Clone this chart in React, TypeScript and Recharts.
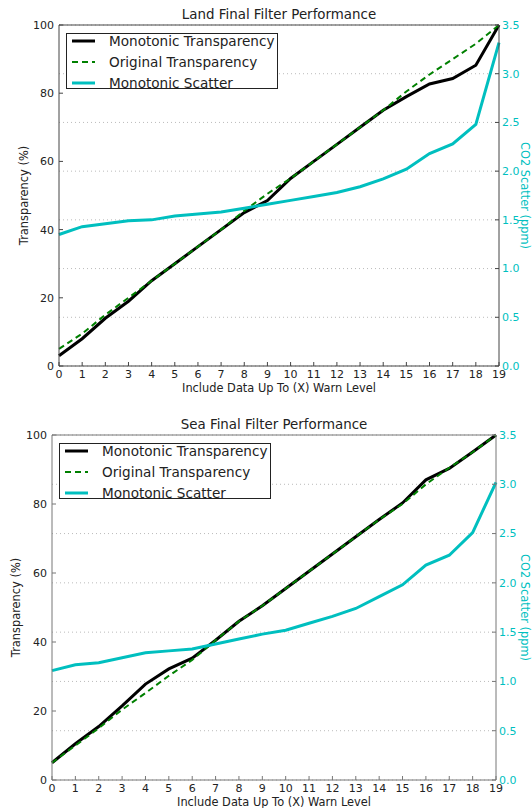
import {
  CartesianGrid,
  Label,
  Legend,
  Line,
  LineChart,
  XAxis,
  YAxis,
} from "recharts";

const LEVELS = [0, 1, 2, 3, 4, 5, 6, 7, 8, 9, 10, 11, 12, 13, 14, 15, 16, 17, 18, 19];
const PCT_TICKS = [0, 20, 40, 60, 80, 100];
const PPM_TICKS = [0, 0.5, 1, 1.5, 2, 2.5, 3, 3.5];

// Land
const LAND_MONOTONIC = [3, 8, 14, 19, 25, 30, 35, 40, 45, 48.5, 55, 60, 65, 70, 75, 79, 82.7, 84.3, 88.2, 100];
const LAND_ORIGINAL = [5, 9.5, 15, 20, 25, 30, 35, 40, 45.5, 50.5, 55, 60, 65, 70, 75, 80.5, 85.5, 90, 94.5, 100];
const LAND_SCATTER = [1.35, 1.43, 1.46, 1.49, 1.5, 1.54, 1.56, 1.58, 1.62, 1.66, 1.7, 1.74, 1.78, 1.84, 1.92, 2.02, 2.18, 2.28, 2.48, 3.32];

// Sea
const SEA_MONOTONIC = [5, 10.5, 15.5, 21.5, 27.8, 32.2, 35.3, 40.5, 46, 50.5, 55.5, 60.5, 65.5, 70.5, 75.5, 80.3, 87, 90.3, 95.1, 100];
const SEA_ORIGINAL = [5, 10, 15, 20.4, 25.2, 30.2, 34.8, 40.5, 46, 50.5, 55.5, 60.5, 65.5, 70.5, 75.5, 80, 85.7, 90.5, 95, 100];
const SEA_SCATTER = [1.11, 1.17, 1.19, 1.24, 1.29, 1.31, 1.33, 1.38, 1.43, 1.48, 1.52, 1.59, 1.66, 1.74, 1.86, 1.98, 2.18, 2.28, 2.51, 3.02];

const FONT = '"DejaVu Sans", Verdana, sans-serif';
const CYAN = "#00bfbf";
const GREEN = "#008000";
const TEXT = "#222";

const SERIES = [
  { key: "mono", name: "Monotonic Transparency", color: "#000", width: 3, dash: undefined as string | undefined },
  { key: "orig", name: "Original Transparency", color: GREEN, width: 2, dash: "6 4" },
  { key: "scatter", name: "Monotonic Scatter", color: CYAN, width: 3, dash: undefined as string | undefined },
];

function buildRows(mono: number[], orig: number[], scatter: number[]) {
  return LEVELS.map((level, i) => ({ level, mono: mono[i], orig: orig[i], scatter: scatter[i] }));
}

function LegendBox() {
  return (
    <div
      style={{
        border: "1px solid #222",
        background: "#fff",
        width: 210,
        height: 54,
        fontFamily: FONT,
        fontSize: 13.6,
        color: TEXT,
      }}
    >
      {SERIES.map((s, i) => (
        <div
          key={s.key}
          style={{
            display: "flex",
            alignItems: "center",
            height: 14,
            marginTop: i === 0 ? 0 : 7,
            whiteSpace: "nowrap",
          }}
        >
          <svg width={42} height={14} style={{ flex: "none" }}>
            <line
              x1={5}
              x2={28}
              y1={7}
              y2={7}
              stroke={s.color}
              strokeWidth={s.width}
              strokeDasharray={s.dash}
            />
          </svg>
          <span>{s.name}</span>
        </div>
      ))}
    </div>
  );
}

interface FilterChartProps {
  title: string;
  rows: ReturnType<typeof buildRows>;
  plotLeft: number;
  plotRight: number;
  height: number;
  xAxisHeight: number;
  spine: string;
  leftLabelDx: number;
  rightLabelDx: number;
}

function FilterChart({
  title,
  rows,
  plotLeft,
  plotRight,
  height,
  xAxisHeight,
  spine,
  leftLabelDx,
  rightLabelDx,
}: FilterChartProps) {
  const tick = { fill: TEXT, fontSize: 11, fontFamily: FONT };
  return (
    <div style={{ position: "relative", width: 532, height }}>
      <LineChart
        width={532}
        height={height}
        data={rows}
        margin={{ top: 24, right: 0, bottom: 0, left: 0 }}
      >
        <CartesianGrid
          yAxisId="right"
          vertical={false}
          stroke="#bbb"
          strokeDasharray="1 3"
        />
        <XAxis
          dataKey="level"
          type="number"
          domain={[0, 19]}
          ticks={LEVELS}
          interval={0}
          height={xAxisHeight}
          tickSize={-4}
          tickMargin={8}
          tick={tick}
          stroke={spine}
        >
          <Label
            value="Include Data Up To (X) Warn Level"
            position="insideBottom"
            offset={xAxisHeight - 26}
            style={{ fill: TEXT, fontSize: 11.4, fontFamily: FONT }}
          />
        </XAxis>
        <XAxis
          xAxisId="top"
          orientation="top"
          dataKey="level"
          type="number"
          domain={[0, 19]}
          ticks={LEVELS}
          interval={0}
          height={1}
          tickSize={-4}
          tick={false}
          stroke={spine}
        />
        <YAxis
          yAxisId="left"
          domain={[0, 100]}
          ticks={PCT_TICKS}
          interval={0}
          width={plotLeft}
          tickSize={-4}
          tickMargin={9}
          tick={tick}
          stroke={spine}
        >
          <Label
            value="Transparency (%)"
            angle={-90}
            position="center"
            dx={leftLabelDx}
            style={{ fill: TEXT, fontSize: 11.4, fontFamily: FONT, textAnchor: "middle" }}
          />
        </YAxis>
        <YAxis
          yAxisId="right"
          orientation="right"
          domain={[0, 3.5]}
          ticks={PPM_TICKS}
          interval={0}
          width={532 - plotRight}
          tickSize={-4}
          tickMargin={7}
          tick={{ ...tick, fill: CYAN }}
          tickFormatter={(v: number) => v.toFixed(1)}
          stroke={spine}
        >
          <Label
            value="CO2 Scatter (ppm)"
            angle={90}
            position="center"
            dx={rightLabelDx}
            style={{ fill: CYAN, fontSize: 11.4, fontFamily: FONT, textAnchor: "middle" }}
          />
        </YAxis>
        <Legend
          layout="horizontal"
          verticalAlign="middle"
          align="center"
          wrapperStyle={{ position: "absolute", left: plotLeft + 7, top: 33, width: "auto", height: "auto" }}
          content={() => <LegendBox />}
        />
        <Line
          yAxisId="left"
          dataKey="mono"
          name="Monotonic Transparency"
          stroke="#000"
          strokeWidth={3}
          dot={false}
          isAnimationActive={false}
        />
        <Line
          yAxisId="left"
          dataKey="orig"
          name="Original Transparency"
          stroke={GREEN}
          strokeWidth={2}
          strokeDasharray="6 4"
          dot={false}
          isAnimationActive={false}
        />
        <Line
          yAxisId="right"
          dataKey="scatter"
          name="Monotonic Scatter"
          stroke={CYAN}
          strokeWidth={3}
          dot={false}
          isAnimationActive={false}
        />
      </LineChart>
      <div
        style={{
          position: "absolute",
          top: 7,
          left: plotLeft,
          width: plotRight - plotLeft,
          textAlign: "center",
          fontFamily: FONT,
          fontSize: 13.4,
          lineHeight: "16px",
          color: TEXT,
        }}
      >
        {title}
      </div>
    </div>
  );
}

export default function App() {
  return (
    <div style={{ position: "absolute", left: 0, top: 0, width: 532, height: 808, background: "#fff" }}>
      <FilterChart
        title="Land Final Filter Performance"
        rows={buildRows(LAND_MONOTONIC, LAND_ORIGINAL, LAND_SCATTER)}
        plotLeft={59}
        plotRight={499}
        height={400}
        xAxisHeight={34}
        spine="#444"
        leftLabelDx={-6}
        rightLabelDx={10}
      />
      <div style={{ position: "absolute", left: 0, top: 410 }}>
        <FilterChart
          title="Sea Final Filter Performance"
          rows={buildRows(SEA_MONOTONIC, SEA_ORIGINAL, SEA_SCATTER)}
          plotLeft={52}
          plotRight={496}
          height={398}
          xAxisHeight={28}
          spine="#777"
          leftLabelDx={-10}
          rightLabelDx={11}
        />
      </div>
    </div>
  );
}
